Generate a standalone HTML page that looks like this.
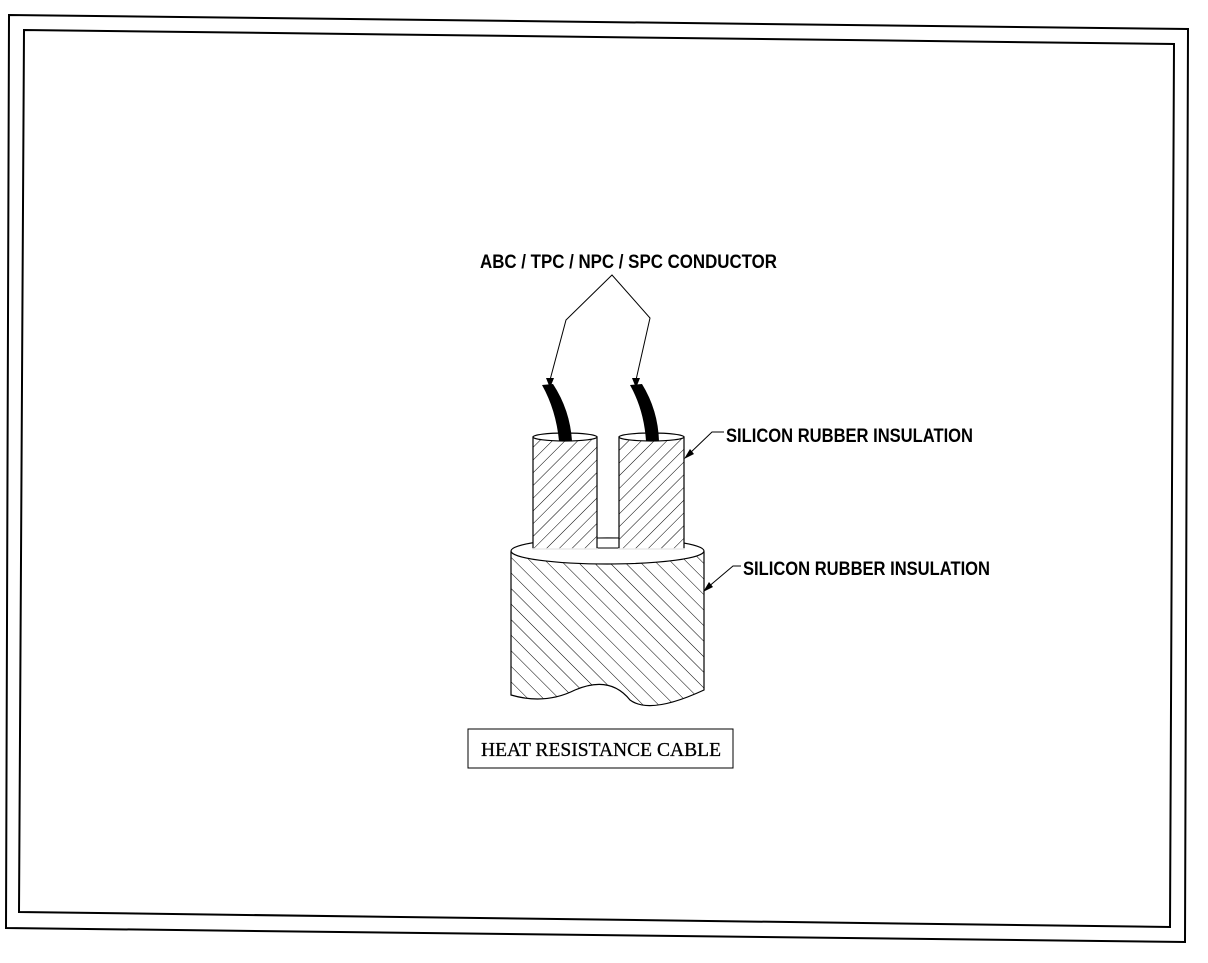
<!DOCTYPE html>
<html><head><style>
body{margin:0;background:#fff;}
svg{display:block;}
.t{font-family:"Liberation Sans",sans-serif;font-weight:bold;font-size:19px;}
.c{font-family:"Liberation Serif",serif;font-size:20px;}
</style></head><body>
<svg width="1208" height="963" viewBox="0 0 1208 963" xmlns="http://www.w3.org/2000/svg">
<defs>
<pattern id="h1" patternUnits="userSpaceOnUse" width="9" height="9" patternTransform="rotate(45)"><line x1="0" y1="0" x2="0" y2="9" stroke="#000" stroke-width="1"/></pattern>
<pattern id="h2" patternUnits="userSpaceOnUse" width="11" height="11" patternTransform="rotate(-45)"><line x1="0" y1="0" x2="0" y2="11" stroke="#000" stroke-width="1"/></pattern>
</defs>
<polygon points="9,15 1188,29 1185,942 6,928" fill="none" stroke="#000" stroke-width="2"/>
<polygon points="24,30 1174,44 1170,927 19,912" fill="none" stroke="#000" stroke-width="2"/>

<text x="480" y="268" class="t" textLength="297" lengthAdjust="spacingAndGlyphs">ABC / TPC / NPC / SPC CONDUCTOR</text>
<polyline points="550,380 566,320 612,275 650,318 636,380" fill="none" stroke="#000" stroke-width="1"/>
<polygon points="546,378 554,378 550,388" fill="#000"/>
<polygon points="632,378 640,378 636,388" fill="#000"/>

<!-- big cylinder -->
<path d="M511,552 L511,695 Q545,705 575,690 Q610,675 630,700 Q650,715 704,690 L704,552 Z" fill="url(#h2)" stroke="#000" stroke-width="1.2"/>
<ellipse cx="607.5" cy="551" rx="96.5" ry="13" fill="#fff" stroke="#000" stroke-width="1.2"/>

<!-- connector between small cylinders -->
<rect x="597" y="538" width="22" height="10" fill="#fff" stroke="#000" stroke-width="1"/>
<!-- small cylinders -->
<path d="M533,437 L533,549 L597,549 L597,437 Z" fill="#fff" stroke="none"/>
<path d="M533,437 L533,549 L597,549 L597,437 Z" fill="url(#h1)" stroke="#000" stroke-width="1.2"/>
<ellipse cx="565" cy="437" rx="32" ry="4" fill="#fff" stroke="#000" stroke-width="1.2"/>
<path d="M619,437 L619,549 L684,549 L684,437 Z" fill="#fff" stroke="none"/>
<path d="M619,437 L619,549 L684,549 L684,437 Z" fill="url(#h1)" stroke="#000" stroke-width="1.2"/>
<ellipse cx="651.5" cy="437" rx="32.5" ry="4" fill="#fff" stroke="#000" stroke-width="1.2"/>
<line x1="532" y1="549" x2="598" y2="549" stroke="#fff" stroke-width="1.5"/>
<line x1="618" y1="549" x2="685" y2="549" stroke="#fff" stroke-width="1.5"/>
<!-- conductors -->
<path d="M542,385 L553,384 Q570,410 572,441 L559,441 Q556,410 542,385 Z" fill="#000"/>
<path d="M630,385 L642,384 Q658,410 659,441 L646,441 Q644,410 630,385 Z" fill="#000"/>

<text x="726" y="442" class="t" textLength="247" lengthAdjust="spacingAndGlyphs">SILICON RUBBER INSULATION</text>
<polyline points="688,455 712,432 724,432" fill="none" stroke="#000" stroke-width="1"/>
<polygon points="684,459 690,449 694,454" fill="#000"/>
<text x="743" y="575" class="t" textLength="247" lengthAdjust="spacingAndGlyphs">SILICON RUBBER INSULATION</text>
<polyline points="707,588 733,566 741,566" fill="none" stroke="#000" stroke-width="1"/>
<polygon points="703,592 709,582 713,587" fill="#000"/>

<rect x="468" y="729" width="265" height="39" fill="#fff" stroke="#000" stroke-width="1"/>
<text x="481" y="756" class="c" textLength="240" lengthAdjust="spacingAndGlyphs" stroke="#000" stroke-width="0.3">HEAT RESISTANCE CABLE</text>
</svg>
</body></html>
